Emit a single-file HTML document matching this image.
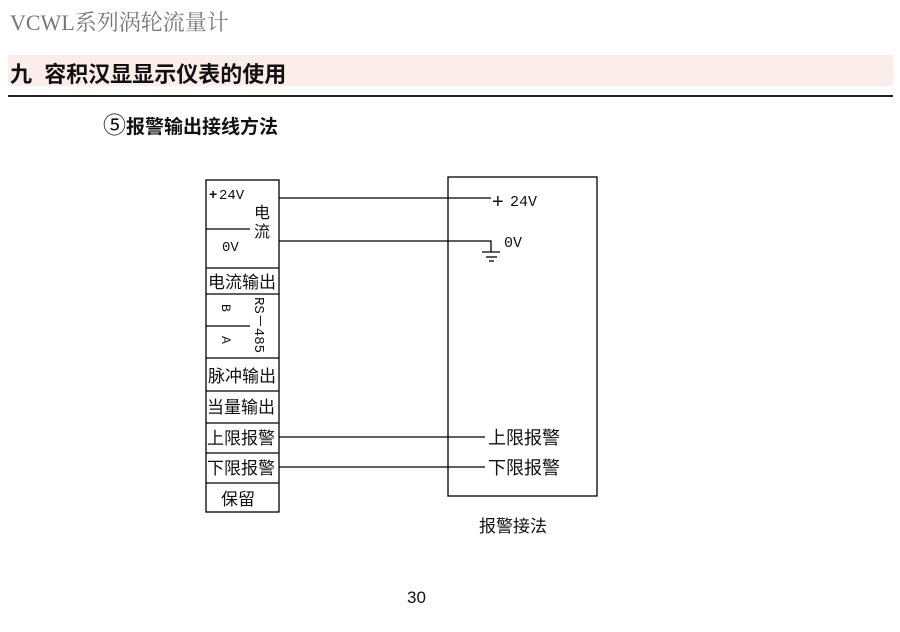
<!DOCTYPE html>
<html><head><meta charset="utf-8"><style>
body{margin:0;width:900px;height:632px;background:#fff;position:relative;overflow:hidden;font-family:"Liberation Sans","Noto Sans CJK SC",sans-serif}
.t{position:absolute;white-space:nowrap}
</style></head><body>
<div class="t" style="left:10px;top:6px;font-family:'Liberation Serif','Noto Serif CJK SC',serif;font-size:22px;color:#777">VCWL系列涡轮流量计</div>
<div style="position:absolute;left:8px;top:55px;width:885px;height:31px;background:#fbeeea"></div>
<div class="t" style="left:10px;top:57px;font-size:22px;font-weight:bold;color:#111">九&nbsp;&nbsp;容积汉显显示仪表的使用</div>
<div style="position:absolute;left:8px;top:95px;width:885px;height:2px;background:#222"></div>
<div class="t" style="left:103px;top:106px;font-size:19px;font-weight:bold;color:#111"><span style="font-size:23px;font-weight:normal">⑤</span>报警输出接线方法</div>
<svg width="900" height="632" style="position:absolute;left:0;top:0" font-family="Liberation Sans,Noto Sans CJK SC,sans-serif">
<g stroke="#000" stroke-width="1.3" fill="none">
<rect x="206" y="180" width="73" height="332"/>
<line x1="206" y1="229" x2="250" y2="229"/>
<line x1="206" y1="268" x2="279" y2="268"/>
<line x1="206" y1="294" x2="279" y2="294"/>
<line x1="206" y1="326" x2="250" y2="326"/>
<line x1="206" y1="358" x2="279" y2="358"/>
<line x1="206" y1="391" x2="279" y2="391"/>
<line x1="206" y1="423" x2="279" y2="423"/>
<line x1="206" y1="453" x2="279" y2="453"/>
<line x1="206" y1="483" x2="279" y2="483"/>
<rect x="448" y="177" width="149" height="319"/>
<line x1="279" y1="198" x2="491" y2="198"/>
<polyline points="279,241 491,241 491,252"/>
<line x1="482" y1="252" x2="500" y2="252"/>
<line x1="486" y1="257" x2="497" y2="257"/>
<line x1="489" y1="261" x2="494" y2="261"/>
<line x1="279" y1="437" x2="485" y2="437"/>
<line x1="279" y1="467" x2="485" y2="467"/>
</g>
<g fill="#111" font-size="14">
<text x="209" y="199" font-size="14" font-weight="bold">+</text>
<text x="219" y="199" font-family="Liberation Mono,monospace" font-size="14">24V</text>
<text x="254" y="218" font-size="16">电</text>
<text x="254" y="237" font-size="16">流</text>
<text x="222" y="251" font-family="Liberation Mono,monospace" font-size="14">0V</text>
<text x="208" y="288" font-size="17">电流输出</text>
<text x="222" y="304" font-family="Liberation Mono,monospace" font-size="13" transform="rotate(90 222 304)">B</text>
<text x="222" y="336" font-family="Liberation Mono,monospace" font-size="13" transform="rotate(90 222 336)">A</text>
<text x="255" y="297" font-family="Liberation Mono,monospace" font-size="14" transform="rotate(90 255 297)">RS－485</text>
<text x="208" y="382" font-size="17">脉冲输出</text>
<text x="207" y="413" font-size="17">当量输出</text>
<text x="207" y="444" font-size="17">上限报警</text>
<text x="207" y="474" font-size="17">下限报警</text>
<text x="221" y="505" font-size="17">保留</text>
<text x="492" y="208" font-size="20">+</text>
<text x="510" y="206" font-family="Liberation Mono,monospace" font-size="15">24V</text>
<text x="504" y="247" font-family="Liberation Mono,monospace" font-size="15">0V</text>
<text x="488" y="444" font-size="18">上限报警</text>
<text x="488" y="474" font-size="18">下限报警</text>
<text x="479" y="532" font-size="17">报警接法</text>
<text x="407" y="603" font-size="17">30</text>
</g>
</svg>
</body></html>
